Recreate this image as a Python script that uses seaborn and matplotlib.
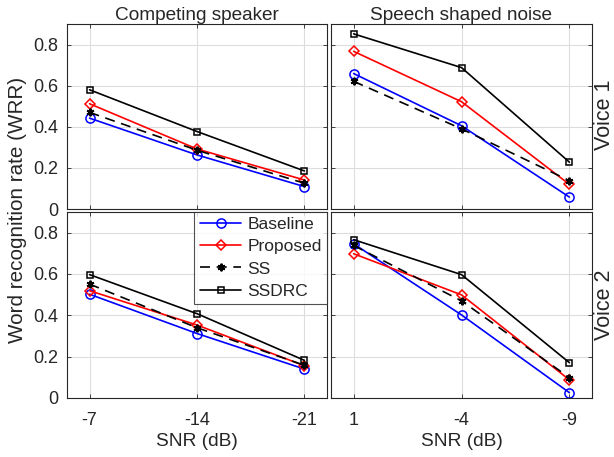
import numpy as np
import pandas as pd
import matplotlib
matplotlib.use("Agg")
import matplotlib.pyplot as plt
import seaborn as sns

# ---- data ----
cs_ticks = ["-7", "-14", "-21"]
ssn_ticks = ["1", "-4", "-9"]
methods = ["Baseline", "Proposed", "SS", "SSDRC"]

v1_cs_baseline = [0.442, 0.263, 0.109]
v1_cs_proposed = [0.512, 0.292, 0.141]
v1_cs_ss = [0.470, 0.286, 0.125]
v1_cs_ssdrc = [0.580, 0.377, 0.185]

v1_ssn_baseline = [0.659, 0.405, 0.058]
v1_ssn_proposed = [0.767, 0.522, 0.120]
v1_ssn_ss = [0.621, 0.390, 0.138]
v1_ssn_ssdrc = [0.852, 0.688, 0.228]

v2_cs_baseline = [0.502, 0.312, 0.140]
v2_cs_proposed = [0.519, 0.353, 0.156]
v2_cs_ss = [0.551, 0.340, 0.158]
v2_cs_ssdrc = [0.597, 0.408, 0.182]

v2_ssn_baseline = [0.746, 0.402, 0.026]
v2_ssn_proposed = [0.698, 0.499, 0.088]
v2_ssn_ss = [0.738, 0.470, 0.099]
v2_ssn_ssdrc = [0.766, 0.597, 0.171]

panels = {
    (0, 0): [v1_cs_baseline, v1_cs_proposed, v1_cs_ss, v1_cs_ssdrc],
    (0, 1): [v1_ssn_baseline, v1_ssn_proposed, v1_ssn_ss, v1_ssn_ssdrc],
    (1, 0): [v2_cs_baseline, v2_cs_proposed, v2_cs_ss, v2_cs_ssdrc],
    (1, 1): [v2_ssn_baseline, v2_ssn_proposed, v2_ssn_ss, v2_ssn_ssdrc],
}

sns.set_style("ticks")
plt.rcParams["font.family"] = ["Liberation Sans", "DejaVu Sans"]

styles = {
    "Baseline": dict(color="#0000ff", marker="o", ls="-", ms=6.6, mfc="none", mew=1.1),
    "Proposed": dict(color="#ff0000", marker="D", ls="-", ms=5.6, mfc="none", mew=1.1),
    "SS": dict(color="black", marker=(6, 2, 0), ls=(0, (6, 4)), ms=5.5, mfc="none", mew=1.4),
    "SSDRC": dict(color="black", marker="s", ls="-", ms=4.5, mfc="none", mew=1.1),
}

fig = plt.figure(figsize=(6.14, 4.57), dpi=100)
L, R = 67 / 614, 592 / 614
mid_l, mid_r = 327 / 614, 331 / 614
rows = [(24, 209), (212, 398)]
axes = {}
for r, (t, b) in enumerate(rows):
    for c in range(2):
        x0 = L if c == 0 else mid_r
        x1 = mid_l if c == 0 else R
        ax = fig.add_axes([x0, 1 - b / 457, x1 - x0, (b - t) / 457])
        axes[(r, c)] = ax

for (r, c), series in panels.items():
    ax = axes[(r, c)]
    for name, vals in zip(methods, series):
        df = pd.DataFrame({"x": [0, 1, 2], "y": vals})
        st = styles[name]
        sns.lineplot(data=df, x="x", y="y", ax=ax, color=st["color"], marker=st["marker"],
                     linestyle=st["ls"], markersize=st["ms"], markerfacecolor=st["mfc"],
                     markeredgecolor=st["color"], markeredgewidth=st["mew"], linewidth=1.2,
                     label=name)
    ax.set_xlim(-0.21, 2.21)
    ax.set_ylim(0, 0.9)
    ax.set_xticks([0, 1, 2])
    ax.set_yticks([0, 0.2, 0.4, 0.6, 0.8])
    ax.grid(True, color="#dddddd", linewidth=0.8)
    ax.set_axisbelow(True)
    ax.tick_params(direction="in", length=3, width=0.6, top=True, right=True,
                   labelsize=13, color="#262626", labelcolor="#262626", pad=6)
    ax.tick_params(axis="x", pad=10)
    for s in ax.spines.values():
        s.set_color("#262626")
        s.set_linewidth(0.8)
    ax.set_xlabel("")
    ax.set_ylabel("")
    if c == 0:
        ax.set_yticklabels(["0", "0.2", "0.4", "0.6", "0.8"])
    else:
        ax.set_yticklabels([])
    if r == 1:
        ax.set_xticklabels(cs_ticks if c == 0 else ssn_ticks)
        ax.set_xlabel("SNR (dB)", fontsize=13.8, color="#262626", labelpad=3)
    else:
        ax.set_xticklabels([])
    if ax.get_legend() is not None:
        ax.get_legend().remove()

axes[(0, 0)].set_title("Competing speaker", fontsize=13.7, color="#262626", pad=3)
axes[(0, 1)].set_title("Speech shaped noise", fontsize=13.7, color="#262626", pad=3)

leg_ax = axes[(1, 0)]
h, l = leg_ax.get_legend_handles_labels()
leg = leg_ax.legend(h, l, loc="upper right", borderaxespad=0, fontsize=12.5, frameon=True,
                    fancybox=False, edgecolor="#262626", handlelength=2.4, handletextpad=0.35,
                    labelspacing=0.4, borderpad=0.3)
leg.get_frame().set_linewidth(0.8)

fig.text(0.028, (1 - 210 / 457), "Word recognition rate (WRR)", rotation=90, va="center",
         ha="center", fontsize=14.9, color="#262626")
fig.text(0.985, 1 - 115 / 457, "Voice 1", rotation=90, va="center", ha="center",
         fontsize=15.5, color="#262626")
fig.text(0.985, 1 - 305 / 457, "Voice 2", rotation=90, va="center", ha="center",
         fontsize=15.5, color="#262626")

fig.savefig("out.png", dpi=100)
